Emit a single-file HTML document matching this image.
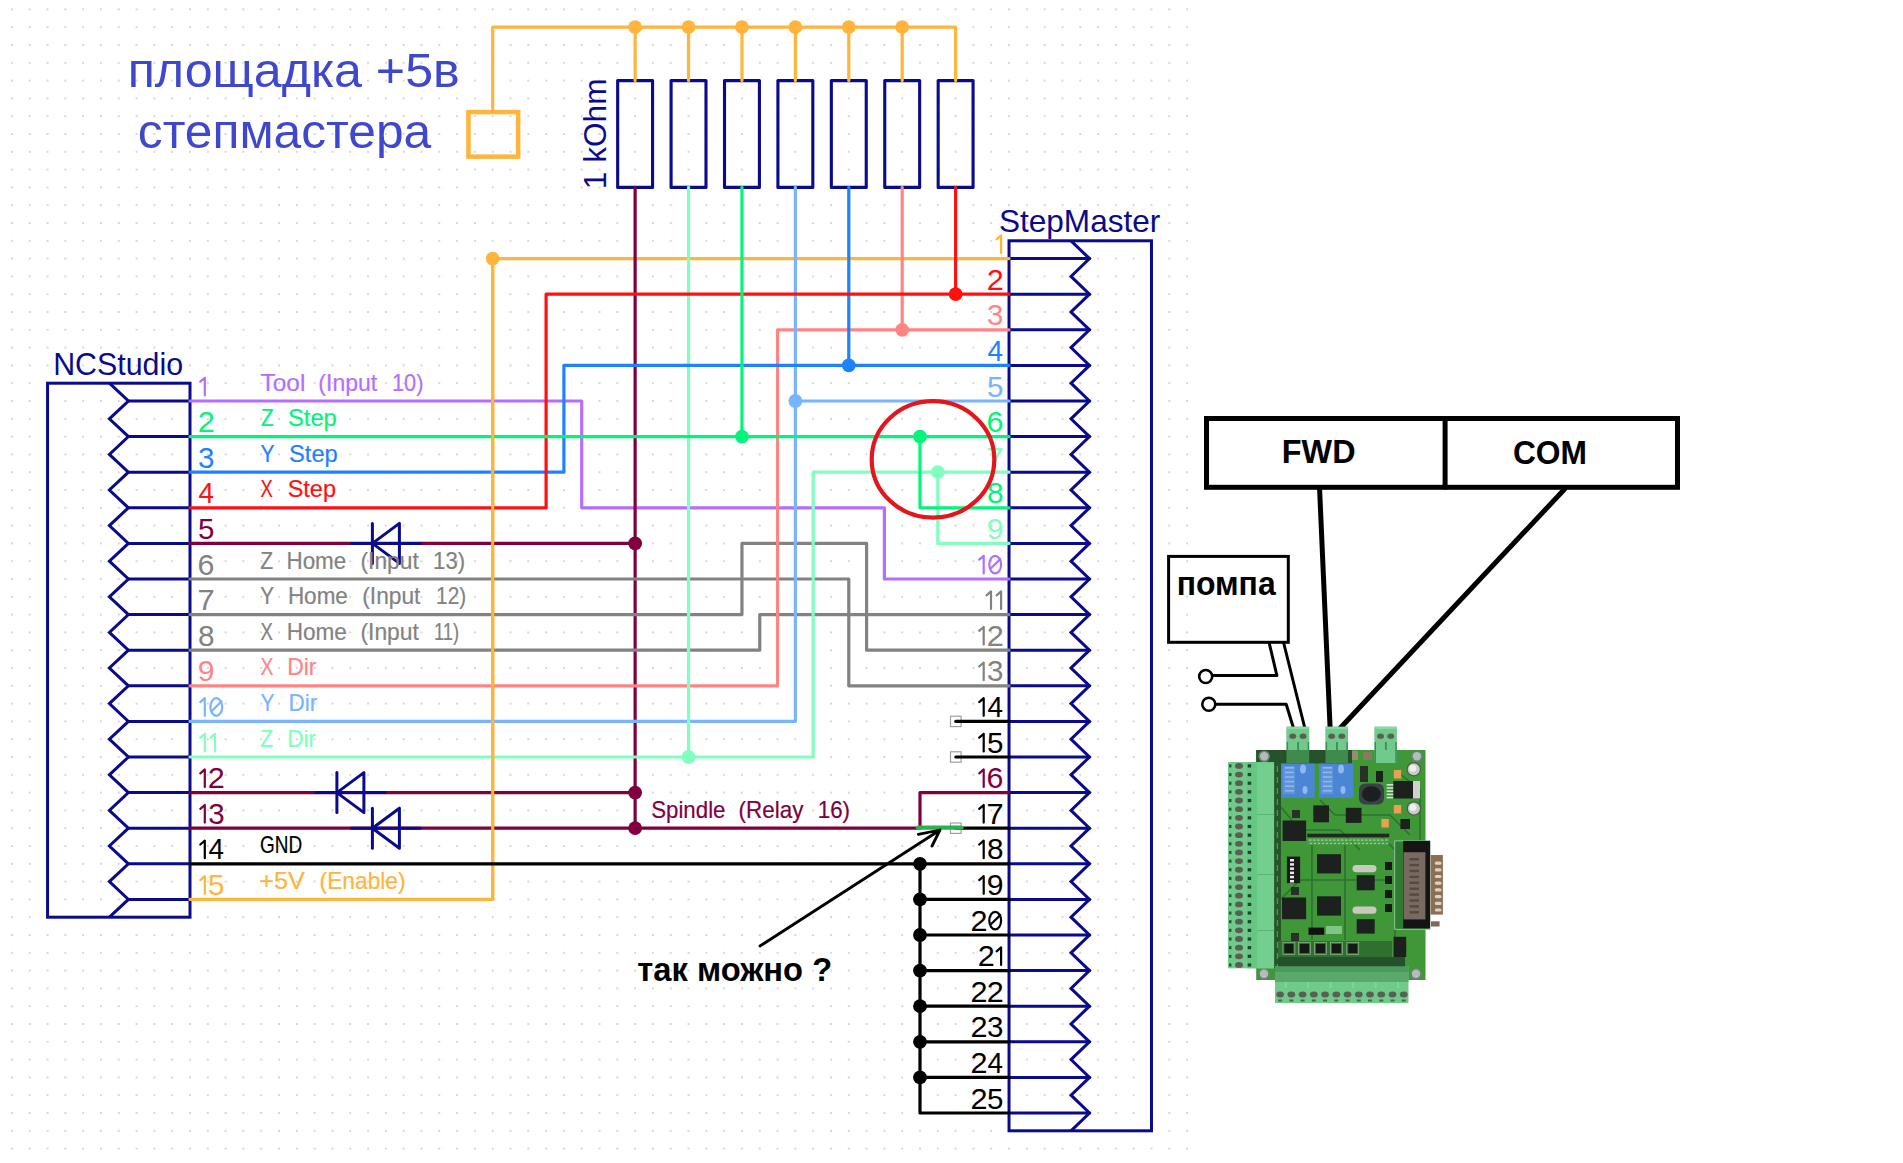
<!DOCTYPE html>
<html><head><meta charset="utf-8"><style>
html,body{margin:0;padding:0;background:#fff;width:1903px;height:1163px;overflow:hidden}
svg{display:block}
text{font-family:"Liberation Sans",sans-serif}
</style></head><body>
<svg width="1903" height="1163" viewBox="0 0 1903 1163">
<defs><pattern id="gd" x="10.95" y="8.4" width="17.805" height="17.8" patternUnits="userSpaceOnUse"><rect x="0.4" y="0.3" width="1.2" height="1.4" fill="#a0a0a0"/></pattern></defs>
<rect x="0" y="0" width="1195" height="1163" fill="url(#gd)"/>
<polyline points="109.4,383.2 128.4,401.0 109.4,418.8 128.4,436.6 109.4,454.4 128.4,472.2 109.4,490.0 128.4,507.8 109.4,525.6 128.4,543.4 109.4,561.2 128.4,579.0 109.4,596.8 128.4,614.6 109.4,632.4 128.4,650.2 109.4,668.0 128.4,685.8 109.4,703.6 128.4,721.4 109.4,739.2 128.4,757.0 109.4,774.8 128.4,792.6 109.4,810.4 128.4,828.2 109.4,846.0 128.4,863.8 109.4,881.6 128.4,899.4 109.4,917.2" stroke="#0a0a8c" stroke-width="3" fill="none" stroke-linejoin="miter"/>
<path d="M128.4,401.0 H190.0" stroke="#0a0a8c" stroke-width="3" fill="none" stroke-linejoin="round" stroke-linecap="round" stroke-linecap="butt"/>
<path d="M128.4,436.6 H190.0" stroke="#0a0a8c" stroke-width="3" fill="none" stroke-linejoin="round" stroke-linecap="round" stroke-linecap="butt"/>
<path d="M128.4,472.2 H190.0" stroke="#0a0a8c" stroke-width="3" fill="none" stroke-linejoin="round" stroke-linecap="round" stroke-linecap="butt"/>
<path d="M128.4,507.8 H190.0" stroke="#0a0a8c" stroke-width="3" fill="none" stroke-linejoin="round" stroke-linecap="round" stroke-linecap="butt"/>
<path d="M128.4,543.4 H190.0" stroke="#0a0a8c" stroke-width="3" fill="none" stroke-linejoin="round" stroke-linecap="round" stroke-linecap="butt"/>
<path d="M128.4,579.0 H190.0" stroke="#0a0a8c" stroke-width="3" fill="none" stroke-linejoin="round" stroke-linecap="round" stroke-linecap="butt"/>
<path d="M128.4,614.6 H190.0" stroke="#0a0a8c" stroke-width="3" fill="none" stroke-linejoin="round" stroke-linecap="round" stroke-linecap="butt"/>
<path d="M128.4,650.2 H190.0" stroke="#0a0a8c" stroke-width="3" fill="none" stroke-linejoin="round" stroke-linecap="round" stroke-linecap="butt"/>
<path d="M128.4,685.8 H190.0" stroke="#0a0a8c" stroke-width="3" fill="none" stroke-linejoin="round" stroke-linecap="round" stroke-linecap="butt"/>
<path d="M128.4,721.4 H190.0" stroke="#0a0a8c" stroke-width="3" fill="none" stroke-linejoin="round" stroke-linecap="round" stroke-linecap="butt"/>
<path d="M128.4,757.0 H190.0" stroke="#0a0a8c" stroke-width="3" fill="none" stroke-linejoin="round" stroke-linecap="round" stroke-linecap="butt"/>
<path d="M128.4,792.6 H190.0" stroke="#0a0a8c" stroke-width="3" fill="none" stroke-linejoin="round" stroke-linecap="round" stroke-linecap="butt"/>
<path d="M128.4,828.2 H190.0" stroke="#0a0a8c" stroke-width="3" fill="none" stroke-linejoin="round" stroke-linecap="round" stroke-linecap="butt"/>
<path d="M128.4,863.8 H190.0" stroke="#0a0a8c" stroke-width="3" fill="none" stroke-linejoin="round" stroke-linecap="round" stroke-linecap="butt"/>
<path d="M128.4,899.4 H190.0" stroke="#0a0a8c" stroke-width="3" fill="none" stroke-linejoin="round" stroke-linecap="round" stroke-linecap="butt"/>
<rect x="47.56" y="383.2" width="142.44" height="534.0" stroke="#0a0a8c" stroke-width="3" fill="none"/>
<polyline points="1071.0,240.8 1089.5,258.6 1071.0,276.4 1089.5,294.2 1071.0,312.0 1089.5,329.8 1071.0,347.6 1089.5,365.4 1071.0,383.2 1089.5,401.0 1071.0,418.8 1089.5,436.6 1071.0,454.4 1089.5,472.2 1071.0,490.0 1089.5,507.8 1071.0,525.6 1089.5,543.4 1071.0,561.2 1089.5,579.0 1071.0,596.8 1089.5,614.6 1071.0,632.4 1089.5,650.2 1071.0,668.0 1089.5,685.8 1071.0,703.6 1089.5,721.4 1071.0,739.2 1089.5,757.0 1071.0,774.8 1089.5,792.6 1071.0,810.4 1089.5,828.2 1071.0,846.0 1089.5,863.8 1071.0,881.6 1089.5,899.4 1071.0,917.2 1089.5,935.0 1071.0,952.8 1089.5,970.6 1071.0,988.4 1089.5,1006.2 1071.0,1024.0 1089.5,1041.8 1071.0,1059.6 1089.5,1077.4 1071.0,1095.2 1089.5,1113.0 1071.0,1130.8" stroke="#0a0a8c" stroke-width="3" fill="none" stroke-linejoin="miter"/>
<path d="M1009.03,258.6 H1089.5" stroke="#0a0a8c" stroke-width="3" fill="none" stroke-linejoin="round" stroke-linecap="round" stroke-linecap="butt"/>
<path d="M1009.03,294.2 H1089.5" stroke="#0a0a8c" stroke-width="3" fill="none" stroke-linejoin="round" stroke-linecap="round" stroke-linecap="butt"/>
<path d="M1009.03,329.8 H1089.5" stroke="#0a0a8c" stroke-width="3" fill="none" stroke-linejoin="round" stroke-linecap="round" stroke-linecap="butt"/>
<path d="M1009.03,365.4 H1089.5" stroke="#0a0a8c" stroke-width="3" fill="none" stroke-linejoin="round" stroke-linecap="round" stroke-linecap="butt"/>
<path d="M1009.03,401.0 H1089.5" stroke="#0a0a8c" stroke-width="3" fill="none" stroke-linejoin="round" stroke-linecap="round" stroke-linecap="butt"/>
<path d="M1009.03,436.6 H1089.5" stroke="#0a0a8c" stroke-width="3" fill="none" stroke-linejoin="round" stroke-linecap="round" stroke-linecap="butt"/>
<path d="M1009.03,472.2 H1089.5" stroke="#0a0a8c" stroke-width="3" fill="none" stroke-linejoin="round" stroke-linecap="round" stroke-linecap="butt"/>
<path d="M1009.03,507.8 H1089.5" stroke="#0a0a8c" stroke-width="3" fill="none" stroke-linejoin="round" stroke-linecap="round" stroke-linecap="butt"/>
<path d="M1009.03,543.4 H1089.5" stroke="#0a0a8c" stroke-width="3" fill="none" stroke-linejoin="round" stroke-linecap="round" stroke-linecap="butt"/>
<path d="M1009.03,579.0 H1089.5" stroke="#0a0a8c" stroke-width="3" fill="none" stroke-linejoin="round" stroke-linecap="round" stroke-linecap="butt"/>
<path d="M1009.03,614.6 H1089.5" stroke="#0a0a8c" stroke-width="3" fill="none" stroke-linejoin="round" stroke-linecap="round" stroke-linecap="butt"/>
<path d="M1009.03,650.2 H1089.5" stroke="#0a0a8c" stroke-width="3" fill="none" stroke-linejoin="round" stroke-linecap="round" stroke-linecap="butt"/>
<path d="M1009.03,685.8 H1089.5" stroke="#0a0a8c" stroke-width="3" fill="none" stroke-linejoin="round" stroke-linecap="round" stroke-linecap="butt"/>
<path d="M1009.03,721.4 H1089.5" stroke="#0a0a8c" stroke-width="3" fill="none" stroke-linejoin="round" stroke-linecap="round" stroke-linecap="butt"/>
<path d="M1009.03,757.0 H1089.5" stroke="#0a0a8c" stroke-width="3" fill="none" stroke-linejoin="round" stroke-linecap="round" stroke-linecap="butt"/>
<path d="M1009.03,792.6 H1089.5" stroke="#0a0a8c" stroke-width="3" fill="none" stroke-linejoin="round" stroke-linecap="round" stroke-linecap="butt"/>
<path d="M1009.03,828.2 H1089.5" stroke="#0a0a8c" stroke-width="3" fill="none" stroke-linejoin="round" stroke-linecap="round" stroke-linecap="butt"/>
<path d="M1009.03,863.8 H1089.5" stroke="#0a0a8c" stroke-width="3" fill="none" stroke-linejoin="round" stroke-linecap="round" stroke-linecap="butt"/>
<path d="M1009.03,899.4 H1089.5" stroke="#0a0a8c" stroke-width="3" fill="none" stroke-linejoin="round" stroke-linecap="round" stroke-linecap="butt"/>
<path d="M1009.03,935.0 H1089.5" stroke="#0a0a8c" stroke-width="3" fill="none" stroke-linejoin="round" stroke-linecap="round" stroke-linecap="butt"/>
<path d="M1009.03,970.6 H1089.5" stroke="#0a0a8c" stroke-width="3" fill="none" stroke-linejoin="round" stroke-linecap="round" stroke-linecap="butt"/>
<path d="M1009.03,1006.2 H1089.5" stroke="#0a0a8c" stroke-width="3" fill="none" stroke-linejoin="round" stroke-linecap="round" stroke-linecap="butt"/>
<path d="M1009.03,1041.8 H1089.5" stroke="#0a0a8c" stroke-width="3" fill="none" stroke-linejoin="round" stroke-linecap="round" stroke-linecap="butt"/>
<path d="M1009.03,1077.4 H1089.5" stroke="#0a0a8c" stroke-width="3" fill="none" stroke-linejoin="round" stroke-linecap="round" stroke-linecap="butt"/>
<path d="M1009.03,1113.0 H1089.5" stroke="#0a0a8c" stroke-width="3" fill="none" stroke-linejoin="round" stroke-linecap="round" stroke-linecap="butt"/>
<rect x="1009.03" y="240.8" width="142.44000000000005" height="890.0" stroke="#0a0a8c" stroke-width="3" fill="none"/>
<rect x="617.67" y="80.6" width="34.9" height="106.80000000000001" stroke="#0a0a8c" stroke-width="3.1" fill="none" stroke-linejoin="round"/>
<rect x="671.0899999999999" y="80.6" width="34.9" height="106.80000000000001" stroke="#0a0a8c" stroke-width="3.1" fill="none" stroke-linejoin="round"/>
<rect x="724.51" y="80.6" width="34.9" height="106.80000000000001" stroke="#0a0a8c" stroke-width="3.1" fill="none" stroke-linejoin="round"/>
<rect x="777.92" y="80.6" width="34.9" height="106.80000000000001" stroke="#0a0a8c" stroke-width="3.1" fill="none" stroke-linejoin="round"/>
<rect x="831.3399999999999" y="80.6" width="34.9" height="106.80000000000001" stroke="#0a0a8c" stroke-width="3.1" fill="none" stroke-linejoin="round"/>
<rect x="884.75" y="80.6" width="34.9" height="106.80000000000001" stroke="#0a0a8c" stroke-width="3.1" fill="none" stroke-linejoin="round"/>
<rect x="938.17" y="80.6" width="34.9" height="106.80000000000001" stroke="#0a0a8c" stroke-width="3.1" fill="none" stroke-linejoin="round"/>
<rect x="468.45" y="112.05" width="49.7" height="44.6" stroke="#ffb43c" stroke-width="4.5" fill="none"/>
<path d="M492.69,111 V27.2 H955.62 V80.6" stroke="#ffb43c" stroke-width="3.2" fill="none" stroke-linejoin="round" stroke-linecap="round"/>
<path d="M635.12,27.2 V80.6" stroke="#ffb43c" stroke-width="3.2" fill="none" stroke-linejoin="round" stroke-linecap="round"/>
<circle cx="635.12" cy="27.2" r="6.9" fill="#ffb43c"/>
<path d="M688.54,27.2 V80.6" stroke="#ffb43c" stroke-width="3.2" fill="none" stroke-linejoin="round" stroke-linecap="round"/>
<circle cx="688.54" cy="27.2" r="6.9" fill="#ffb43c"/>
<path d="M741.96,27.2 V80.6" stroke="#ffb43c" stroke-width="3.2" fill="none" stroke-linejoin="round" stroke-linecap="round"/>
<circle cx="741.96" cy="27.2" r="6.9" fill="#ffb43c"/>
<path d="M795.37,27.2 V80.6" stroke="#ffb43c" stroke-width="3.2" fill="none" stroke-linejoin="round" stroke-linecap="round"/>
<circle cx="795.37" cy="27.2" r="6.9" fill="#ffb43c"/>
<path d="M848.79,27.2 V80.6" stroke="#ffb43c" stroke-width="3.2" fill="none" stroke-linejoin="round" stroke-linecap="round"/>
<circle cx="848.79" cy="27.2" r="6.9" fill="#ffb43c"/>
<path d="M902.2,27.2 V80.6" stroke="#ffb43c" stroke-width="3.2" fill="none" stroke-linejoin="round" stroke-linecap="round"/>
<circle cx="902.2" cy="27.2" r="6.9" fill="#ffb43c"/>
<path d="M190.0,899.4 H492.69 V258.6 H1009.03" stroke="#ffb43c" stroke-width="3.2" fill="none" stroke-linejoin="round" stroke-linecap="round"/>
<circle cx="492.69" cy="258.6" r="6.9" fill="#ffb43c"/>
<path d="M190.0,401.0 H581.71 V507.8 H884.39 V579.0 H1009.03" stroke="#b46eff" stroke-width="3.2" fill="none" stroke-linejoin="round" stroke-linecap="round"/>
<path d="M635.12,187.4 V828.2" stroke="#80003f" stroke-width="3.2" fill="none" stroke-linejoin="round" stroke-linecap="round"/>
<path d="M190.0,543.4 H635.12" stroke="#80003f" stroke-width="3.2" fill="none" stroke-linejoin="round" stroke-linecap="round"/>
<path d="M190.0,792.6 H635.12" stroke="#80003f" stroke-width="3.2" fill="none" stroke-linejoin="round" stroke-linecap="round"/>
<path d="M190.0,828.2 H920.0 V792.6 H1009.03" stroke="#80003f" stroke-width="3.2" fill="none" stroke-linejoin="round" stroke-linecap="round"/>
<circle cx="635.12" cy="543.4" r="6.9" fill="#80003f"/>
<circle cx="635.12" cy="792.6" r="6.9" fill="#80003f"/>
<circle cx="635.12" cy="828.2" r="6.9" fill="#80003f"/>
<path d="M190.0,579.0 H848.79 V685.8 H1009.03" stroke="#828282" stroke-width="3.2" fill="none" stroke-linejoin="round" stroke-linecap="round"/>
<path d="M190.0,614.6 H741.96 V543.4 H866.59 V650.2 H1009.03" stroke="#828282" stroke-width="3.2" fill="none" stroke-linejoin="round" stroke-linecap="round"/>
<path d="M190.0,650.2 H759.76 V614.6 H1009.03" stroke="#828282" stroke-width="3.2" fill="none" stroke-linejoin="round" stroke-linecap="round"/>
<path d="M190.0,685.8 H777.57 V329.8 H1009.03" stroke="#ff8484" stroke-width="3.2" fill="none" stroke-linejoin="round" stroke-linecap="round"/>
<path d="M902.2,187.4 V329.8" stroke="#ff8484" stroke-width="3.2" fill="none" stroke-linejoin="round" stroke-linecap="round"/>
<circle cx="902.2" cy="329.8" r="6.9" fill="#ff8484"/>
<path d="M190.0,721.4 H795.37 V401.0 H1009.03" stroke="#78b4ff" stroke-width="3.2" fill="none" stroke-linejoin="round" stroke-linecap="round"/>
<path d="M795.37,187.4 V401.0" stroke="#78b4ff" stroke-width="3.2" fill="none" stroke-linejoin="round" stroke-linecap="round"/>
<circle cx="795.37" cy="401.0" r="6.9" fill="#78b4ff"/>
<path d="M190.0,757.0 H813.18 V472.2 H1009.03" stroke="#80ffbe" stroke-width="3.2" fill="none" stroke-linejoin="round" stroke-linecap="round"/>
<path d="M688.54,187.4 V757.0" stroke="#80ffbe" stroke-width="3.2" fill="none" stroke-linejoin="round" stroke-linecap="round"/>
<circle cx="688.54" cy="757.0" r="6.9" fill="#80ffbe"/>
<path d="M937.81,472.2 V543.4 H1009.03" stroke="#80ffbe" stroke-width="3.2" fill="none" stroke-linejoin="round" stroke-linecap="round"/>
<circle cx="937.81" cy="472.2" r="6.9" fill="#80ffbe"/>
<path d="M190.0,472.2 H563.91 V365.4 H1009.03" stroke="#1e82ff" stroke-width="3.2" fill="none" stroke-linejoin="round" stroke-linecap="round"/>
<path d="M848.79,187.4 V365.4" stroke="#1e82ff" stroke-width="3.2" fill="none" stroke-linejoin="round" stroke-linecap="round"/>
<circle cx="848.79" cy="365.4" r="6.9" fill="#1e82ff"/>
<path d="M190.0,507.8 H546.1 V294.2 H1009.03" stroke="#ff1010" stroke-width="3.2" fill="none" stroke-linejoin="round" stroke-linecap="round"/>
<path d="M955.62,187.4 V294.2" stroke="#ff1010" stroke-width="3.2" fill="none" stroke-linejoin="round" stroke-linecap="round"/>
<circle cx="955.62" cy="294.2" r="6.9" fill="#ff1010"/>
<path d="M190.0,436.6 H1009.03" stroke="#00f57a" stroke-width="3.2" fill="none" stroke-linejoin="round" stroke-linecap="round"/>
<path d="M741.96,187.4 V436.6" stroke="#00f57a" stroke-width="3.2" fill="none" stroke-linejoin="round" stroke-linecap="round"/>
<circle cx="741.96" cy="436.6" r="6.9" fill="#00f57a"/>
<path d="M920.0,436.6 V507.8 H1009.03" stroke="#00f57a" stroke-width="3.2" fill="none" stroke-linejoin="round" stroke-linecap="round"/>
<circle cx="920.0" cy="436.6" r="6.9" fill="#00f57a"/>
<path d="M492.69,258.6 V899.4" stroke="#ffb43c" stroke-width="3.2" fill="none" stroke-linejoin="round" stroke-linecap="round"/>
<path d="M190.0,863.8 H1009.03" stroke="#000000" stroke-width="3.2" fill="none" stroke-linejoin="round" stroke-linecap="round"/>
<path d="M920.0,863.8 V1113.0 H1009.03" stroke="#000000" stroke-width="3.2" fill="none" stroke-linejoin="round" stroke-linecap="round"/>
<circle cx="920.0" cy="863.8" r="6.9" fill="#000000"/>
<path d="M920.0,899.4 H1009.03" stroke="#000000" stroke-width="3.2" fill="none" stroke-linejoin="round" stroke-linecap="round"/>
<circle cx="920.0" cy="899.4" r="6.9" fill="#000000"/>
<path d="M920.0,935.0 H1009.03" stroke="#000000" stroke-width="3.2" fill="none" stroke-linejoin="round" stroke-linecap="round"/>
<circle cx="920.0" cy="935.0" r="6.9" fill="#000000"/>
<path d="M920.0,970.6 H1009.03" stroke="#000000" stroke-width="3.2" fill="none" stroke-linejoin="round" stroke-linecap="round"/>
<circle cx="920.0" cy="970.6" r="6.9" fill="#000000"/>
<path d="M920.0,1006.2 H1009.03" stroke="#000000" stroke-width="3.2" fill="none" stroke-linejoin="round" stroke-linecap="round"/>
<circle cx="920.0" cy="1006.2" r="6.9" fill="#000000"/>
<path d="M920.0,1041.8 H1009.03" stroke="#000000" stroke-width="3.2" fill="none" stroke-linejoin="round" stroke-linecap="round"/>
<circle cx="920.0" cy="1041.8" r="6.9" fill="#000000"/>
<path d="M920.0,1077.4 H1009.03" stroke="#000000" stroke-width="3.2" fill="none" stroke-linejoin="round" stroke-linecap="round"/>
<circle cx="920.0" cy="1077.4" r="6.9" fill="#000000"/>
<rect x="950.5" y="716.2" width="10.6" height="10.4" fill="none" stroke="#a0a0a0" stroke-width="1.2"/>
<path d="M955.8,721.4 H1009.03" stroke="#000000" stroke-width="3.2" fill="none" stroke-linejoin="round" stroke-linecap="round"/>
<rect x="950.5" y="751.8" width="10.6" height="10.4" fill="none" stroke="#a0a0a0" stroke-width="1.2"/>
<path d="M955.8,757.0 H1009.03" stroke="#000000" stroke-width="3.2" fill="none" stroke-linejoin="round" stroke-linecap="round"/>
<rect x="950.5" y="823.0" width="10.6" height="10.4" fill="none" stroke="#a0a0a0" stroke-width="1.2"/>
<path d="M955.8,828.2 H1009.03" stroke="#000000" stroke-width="3.2" fill="none" stroke-linejoin="round" stroke-linecap="round"/>
<path d="M918.0,827.6 H961.5" stroke="#2bb34b" stroke-width="4.4" fill="none" stroke-linejoin="round" stroke-linecap="round" stroke-linecap="butt"/>
<path d="M351.4,543.4 H420.4" stroke="#0a0a8c" stroke-width="3" fill="none" stroke-linejoin="round" stroke-linecap="round"/>
<path d="M372.4,523.4 V563.4" stroke="#0a0a8c" stroke-width="3" fill="none" stroke-linejoin="round" stroke-linecap="round"/>
<path d="M399.4,523.4 V563.4 L372.4,543.4 Z" stroke="#0a0a8c" stroke-width="3" fill="none" stroke-linejoin="round" stroke-linecap="round"/>
<path d="M315.9,792.6 H384.9" stroke="#0a0a8c" stroke-width="3" fill="none" stroke-linejoin="round" stroke-linecap="round"/>
<path d="M336.9,772.6 V812.6" stroke="#0a0a8c" stroke-width="3" fill="none" stroke-linejoin="round" stroke-linecap="round"/>
<path d="M363.9,772.6 V812.6 L336.9,792.6 Z" stroke="#0a0a8c" stroke-width="3" fill="none" stroke-linejoin="round" stroke-linecap="round"/>
<path d="M351.4,828.2 H420.4" stroke="#0a0a8c" stroke-width="3" fill="none" stroke-linejoin="round" stroke-linecap="round"/>
<path d="M372.4,808.2 V848.2" stroke="#0a0a8c" stroke-width="3" fill="none" stroke-linejoin="round" stroke-linecap="round"/>
<path d="M399.4,808.2 V848.2 L372.4,828.2 Z" stroke="#0a0a8c" stroke-width="3" fill="none" stroke-linejoin="round" stroke-linecap="round"/>
<path d="M200.3,381.7 L204.8,377.8 V395.4" stroke="#b46eff" stroke-width="2.2" fill="none" stroke-linecap="round" stroke-linejoin="round"/>
<text x="197.7" y="432.1" fill="#00f57a" font-size="28.7" font-family="Liberation Sans" font-weight="normal" textLength="17.06" lengthAdjust="spacingAndGlyphs">2</text>
<text x="198.07" y="467.7" fill="#1e82ff" font-size="28.7" font-family="Liberation Sans" font-weight="normal" textLength="16.43" lengthAdjust="spacingAndGlyphs">3</text>
<text x="198.52" y="503.3" fill="#ff1010" font-size="28.7" font-family="Liberation Sans" font-weight="normal" textLength="15.52" lengthAdjust="spacingAndGlyphs">4</text>
<text x="197.96" y="538.9" fill="#80003f" font-size="28.7" font-family="Liberation Sans" font-weight="normal" textLength="16.43" lengthAdjust="spacingAndGlyphs">5</text>
<text x="197.61" y="574.5" fill="#828282" font-size="28.7" font-family="Liberation Sans" font-weight="normal" textLength="16.93" lengthAdjust="spacingAndGlyphs">6</text>
<text x="197.58" y="610.1" fill="#828282" font-size="28.7" font-family="Liberation Sans" font-weight="normal" textLength="17.19" lengthAdjust="spacingAndGlyphs">7</text>
<text x="197.96" y="645.7" fill="#828282" font-size="28.7" font-family="Liberation Sans" font-weight="normal" textLength="16.55" lengthAdjust="spacingAndGlyphs">8</text>
<text x="197.83" y="681.3" fill="#ff8484" font-size="28.7" font-family="Liberation Sans" font-weight="normal" textLength="16.8" lengthAdjust="spacingAndGlyphs">9</text>
<path d="M200.3,702.1 L204.8,698.2 V715.8" stroke="#78b4ff" stroke-width="2.2" fill="none" stroke-linecap="round" stroke-linejoin="round"/>
<ellipse cx="216.3" cy="707.0" rx="5.9" ry="8.8" stroke="#78b4ff" stroke-width="2.2" fill="none"/>
<path d="M212.0,710.7 L221.4,701.5" stroke="#78b4ff" stroke-width="2.2" fill="none" stroke-linecap="round"/>
<path d="M200.3,737.7 L204.8,733.8 V751.4" stroke="#80ffbe" stroke-width="2.2" fill="none" stroke-linecap="round" stroke-linejoin="round"/>
<path d="M210.4,737.7 L214.9,733.8 V751.4" stroke="#80ffbe" stroke-width="2.2" fill="none" stroke-linecap="round" stroke-linejoin="round"/>
<path d="M200.3,773.3 L204.8,769.4 V787.0" stroke="#80003f" stroke-width="2.2" fill="none" stroke-linecap="round" stroke-linejoin="round"/>
<text x="207.8" y="788.1" fill="#80003f" font-size="28.7" font-family="Liberation Sans" font-weight="normal" textLength="17.06" lengthAdjust="spacingAndGlyphs">2</text>
<path d="M200.3,808.9 L204.8,805.0 V822.6" stroke="#80003f" stroke-width="2.2" fill="none" stroke-linecap="round" stroke-linejoin="round"/>
<text x="208.17" y="823.7" fill="#80003f" font-size="28.7" font-family="Liberation Sans" font-weight="normal" textLength="16.43" lengthAdjust="spacingAndGlyphs">3</text>
<path d="M200.3,844.5 L204.8,840.6 V858.2" stroke="#000000" stroke-width="2.2" fill="none" stroke-linecap="round" stroke-linejoin="round"/>
<text x="208.62" y="859.3" fill="#000000" font-size="28.7" font-family="Liberation Sans" font-weight="normal" textLength="15.52" lengthAdjust="spacingAndGlyphs">4</text>
<path d="M200.3,880.1 L204.8,876.2 V893.8" stroke="#ffb43c" stroke-width="2.2" fill="none" stroke-linecap="round" stroke-linejoin="round"/>
<text x="208.06" y="894.9" fill="#ffb43c" font-size="28.7" font-family="Liberation Sans" font-weight="normal" textLength="16.43" lengthAdjust="spacingAndGlyphs">5</text>
<text x="260.55" y="390.6" fill="#b46eff" font-size="23.2" font-family="Liberation Sans" font-weight="normal" textLength="44.8" lengthAdjust="spacingAndGlyphs" stroke="#b46eff" stroke-width="0.2">Tool</text>
<text x="318.36" y="390.6" fill="#b46eff" font-size="23.2" font-family="Liberation Sans" font-weight="normal" textLength="58.77" lengthAdjust="spacingAndGlyphs" stroke="#b46eff" stroke-width="0.2">(Input</text>
<text x="391.94" y="390.6" fill="#b46eff" font-size="23.2" font-family="Liberation Sans" font-weight="normal" textLength="31.46" lengthAdjust="spacingAndGlyphs" stroke="#b46eff" stroke-width="0.2">10)</text>
<text x="261.05" y="426.2" fill="#00f57a" font-size="23.2" font-family="Liberation Sans" font-weight="normal" textLength="12.73" lengthAdjust="spacingAndGlyphs" stroke="#00f57a" stroke-width="0.2">Z</text>
<text x="287.93" y="426.2" fill="#00f57a" font-size="23.2" font-family="Liberation Sans" font-weight="normal" textLength="48.91" lengthAdjust="spacingAndGlyphs" stroke="#00f57a" stroke-width="0.2">Step</text>
<text x="260.44" y="461.8" fill="#1e82ff" font-size="23.2" font-family="Liberation Sans" font-weight="normal" textLength="14.01" lengthAdjust="spacingAndGlyphs" stroke="#1e82ff" stroke-width="0.2">Y</text>
<text x="289.04" y="461.8" fill="#1e82ff" font-size="23.2" font-family="Liberation Sans" font-weight="normal" textLength="48.7" lengthAdjust="spacingAndGlyphs" stroke="#1e82ff" stroke-width="0.2">Step</text>
<text x="260.39" y="497.4" fill="#ff1010" font-size="23.2" font-family="Liberation Sans" font-weight="normal" textLength="12.2" lengthAdjust="spacingAndGlyphs" stroke="#ff1010" stroke-width="0.2">X</text>
<text x="287.65" y="497.4" fill="#ff1010" font-size="23.2" font-family="Liberation Sans" font-weight="normal" textLength="48.38" lengthAdjust="spacingAndGlyphs" stroke="#ff1010" stroke-width="0.2">Step</text>
<text x="260.14" y="568.6" fill="#828282" font-size="23.2" font-family="Liberation Sans" font-weight="normal" textLength="12.84" lengthAdjust="spacingAndGlyphs" stroke="#828282" stroke-width="0.2">Z</text>
<text x="286.49" y="568.6" fill="#828282" font-size="23.2" font-family="Liberation Sans" font-weight="normal" textLength="59.7" lengthAdjust="spacingAndGlyphs" stroke="#828282" stroke-width="0.2">Home</text>
<text x="360.47" y="568.6" fill="#828282" font-size="23.2" font-family="Liberation Sans" font-weight="normal" textLength="58.26" lengthAdjust="spacingAndGlyphs" stroke="#828282" stroke-width="0.2">(Input</text>
<text x="433.11" y="568.6" fill="#828282" font-size="23.2" font-family="Liberation Sans" font-weight="normal" textLength="32.01" lengthAdjust="spacingAndGlyphs" stroke="#828282" stroke-width="0.2">13)</text>
<text x="260.24" y="604.2" fill="#828282" font-size="23.2" font-family="Liberation Sans" font-weight="normal" textLength="13.79" lengthAdjust="spacingAndGlyphs" stroke="#828282" stroke-width="0.2">Y</text>
<text x="287.88" y="604.2" fill="#828282" font-size="23.2" font-family="Liberation Sans" font-weight="normal" textLength="60.01" lengthAdjust="spacingAndGlyphs" stroke="#828282" stroke-width="0.2">Home</text>
<text x="362.27" y="604.2" fill="#828282" font-size="23.2" font-family="Liberation Sans" font-weight="normal" textLength="58.16" lengthAdjust="spacingAndGlyphs" stroke="#828282" stroke-width="0.2">(Input</text>
<text x="436.12" y="604.2" fill="#828282" font-size="23.2" font-family="Liberation Sans" font-weight="normal" textLength="30.02" lengthAdjust="spacingAndGlyphs" stroke="#828282" stroke-width="0.2">12)</text>
<text x="260.39" y="639.8" fill="#828282" font-size="23.2" font-family="Liberation Sans" font-weight="normal" textLength="12.31" lengthAdjust="spacingAndGlyphs" stroke="#828282" stroke-width="0.2">X</text>
<text x="286.68" y="639.8" fill="#828282" font-size="23.2" font-family="Liberation Sans" font-weight="normal" textLength="60.12" lengthAdjust="spacingAndGlyphs" stroke="#828282" stroke-width="0.2">Home</text>
<text x="360.47" y="639.8" fill="#828282" font-size="23.2" font-family="Liberation Sans" font-weight="normal" textLength="58.26" lengthAdjust="spacingAndGlyphs" stroke="#828282" stroke-width="0.2">(Input</text>
<text x="433.9" y="639.8" fill="#828282" font-size="23.2" font-family="Liberation Sans" font-weight="normal" textLength="25.13" lengthAdjust="spacingAndGlyphs" stroke="#828282" stroke-width="0.2">11)</text>
<text x="260.56" y="675.4" fill="#ff8484" font-size="23.2" font-family="Liberation Sans" font-weight="normal" textLength="12.95" lengthAdjust="spacingAndGlyphs" stroke="#ff8484" stroke-width="0.2">X</text>
<text x="287.15" y="675.4" fill="#ff8484" font-size="23.2" font-family="Liberation Sans" font-weight="normal" textLength="29.35" lengthAdjust="spacingAndGlyphs" stroke="#ff8484" stroke-width="0.2">Dir</text>
<text x="260.44" y="711.0" fill="#78b4ff" font-size="23.2" font-family="Liberation Sans" font-weight="normal" textLength="14.01" lengthAdjust="spacingAndGlyphs" stroke="#78b4ff" stroke-width="0.2">Y</text>
<text x="288.48" y="711.0" fill="#78b4ff" font-size="23.2" font-family="Liberation Sans" font-weight="normal" textLength="28.81" lengthAdjust="spacingAndGlyphs" stroke="#78b4ff" stroke-width="0.2">Dir</text>
<text x="260.33" y="746.6" fill="#80ffbe" font-size="23.2" font-family="Liberation Sans" font-weight="normal" textLength="12.95" lengthAdjust="spacingAndGlyphs" stroke="#80ffbe" stroke-width="0.2">Z</text>
<text x="287.18" y="746.6" fill="#80ffbe" font-size="23.2" font-family="Liberation Sans" font-weight="normal" textLength="28.81" lengthAdjust="spacingAndGlyphs" stroke="#80ffbe" stroke-width="0.2">Dir</text>
<text x="259.96" y="853.4" fill="#000000" font-size="23.2" font-family="Liberation Sans" font-weight="normal" textLength="42.13" lengthAdjust="spacingAndGlyphs" stroke="#000000" stroke-width="0.2">GND</text>
<text x="259.26" y="889.0" fill="#ffb43c" font-size="23.2" font-family="Liberation Sans" font-weight="normal" textLength="45.45" lengthAdjust="spacingAndGlyphs" stroke="#ffb43c" stroke-width="0.2">+5V</text>
<text x="319.57" y="889.0" fill="#ffb43c" font-size="23.2" font-family="Liberation Sans" font-weight="normal" textLength="86.05" lengthAdjust="spacingAndGlyphs" stroke="#ffb43c" stroke-width="0.2">(Enable)</text>
<path d="M996.6,239.3 L1001.1,235.4 V253.0" stroke="#ffb43c" stroke-width="2.2" fill="none" stroke-linecap="round" stroke-linejoin="round"/>
<text x="986.7" y="289.7" fill="#ff1010" font-size="28.7" font-family="Liberation Sans" font-weight="normal" textLength="17.06" lengthAdjust="spacingAndGlyphs">2</text>
<text x="987.07" y="325.3" fill="#ff8484" font-size="28.7" font-family="Liberation Sans" font-weight="normal" textLength="16.43" lengthAdjust="spacingAndGlyphs">3</text>
<text x="987.52" y="360.9" fill="#1e82ff" font-size="28.7" font-family="Liberation Sans" font-weight="normal" textLength="15.52" lengthAdjust="spacingAndGlyphs">4</text>
<text x="986.96" y="396.5" fill="#78b4ff" font-size="28.7" font-family="Liberation Sans" font-weight="normal" textLength="16.43" lengthAdjust="spacingAndGlyphs">5</text>
<text x="986.61" y="432.1" fill="#00f57a" font-size="28.7" font-family="Liberation Sans" font-weight="normal" textLength="16.93" lengthAdjust="spacingAndGlyphs">6</text>
<text x="986.58" y="467.7" fill="#80ffbe" font-size="28.7" font-family="Liberation Sans" font-weight="normal" textLength="17.19" lengthAdjust="spacingAndGlyphs">7</text>
<text x="986.96" y="503.3" fill="#00f57a" font-size="28.7" font-family="Liberation Sans" font-weight="normal" textLength="16.55" lengthAdjust="spacingAndGlyphs">8</text>
<text x="986.83" y="538.9" fill="#80ffbe" font-size="28.7" font-family="Liberation Sans" font-weight="normal" textLength="16.8" lengthAdjust="spacingAndGlyphs">9</text>
<path d="M979.2,559.7 L983.7,555.8 V573.4" stroke="#b46eff" stroke-width="2.2" fill="none" stroke-linecap="round" stroke-linejoin="round"/>
<ellipse cx="995.2" cy="564.6" rx="5.9" ry="8.8" stroke="#b46eff" stroke-width="2.2" fill="none"/>
<path d="M990.9,568.3 L1000.3,559.1" stroke="#b46eff" stroke-width="2.2" fill="none" stroke-linecap="round"/>
<path d="M986.5,595.3 L991.0,591.4 V609.0" stroke="#828282" stroke-width="2.2" fill="none" stroke-linecap="round" stroke-linejoin="round"/>
<path d="M996.6,595.3 L1001.1,591.4 V609.0" stroke="#828282" stroke-width="2.2" fill="none" stroke-linecap="round" stroke-linejoin="round"/>
<path d="M979.2,630.9 L983.7,627.0 V644.6" stroke="#828282" stroke-width="2.2" fill="none" stroke-linecap="round" stroke-linejoin="round"/>
<text x="986.7" y="645.7" fill="#828282" font-size="28.7" font-family="Liberation Sans" font-weight="normal" textLength="17.06" lengthAdjust="spacingAndGlyphs">2</text>
<path d="M979.2,666.5 L983.7,662.6 V680.2" stroke="#828282" stroke-width="2.2" fill="none" stroke-linecap="round" stroke-linejoin="round"/>
<text x="987.07" y="681.3" fill="#828282" font-size="28.7" font-family="Liberation Sans" font-weight="normal" textLength="16.43" lengthAdjust="spacingAndGlyphs">3</text>
<path d="M979.2,702.1 L983.7,698.2 V715.8" stroke="#000000" stroke-width="2.2" fill="none" stroke-linecap="round" stroke-linejoin="round"/>
<text x="987.52" y="716.9" fill="#000000" font-size="28.7" font-family="Liberation Sans" font-weight="normal" textLength="15.52" lengthAdjust="spacingAndGlyphs">4</text>
<path d="M979.2,737.7 L983.7,733.8 V751.4" stroke="#000000" stroke-width="2.2" fill="none" stroke-linecap="round" stroke-linejoin="round"/>
<text x="986.96" y="752.5" fill="#000000" font-size="28.7" font-family="Liberation Sans" font-weight="normal" textLength="16.43" lengthAdjust="spacingAndGlyphs">5</text>
<path d="M979.2,773.3 L983.7,769.4 V787.0" stroke="#80003f" stroke-width="2.2" fill="none" stroke-linecap="round" stroke-linejoin="round"/>
<text x="986.61" y="788.1" fill="#80003f" font-size="28.7" font-family="Liberation Sans" font-weight="normal" textLength="16.93" lengthAdjust="spacingAndGlyphs">6</text>
<path d="M979.2,808.9 L983.7,805.0 V822.6" stroke="#000000" stroke-width="2.2" fill="none" stroke-linecap="round" stroke-linejoin="round"/>
<text x="986.58" y="823.7" fill="#000000" font-size="28.7" font-family="Liberation Sans" font-weight="normal" textLength="17.19" lengthAdjust="spacingAndGlyphs">7</text>
<path d="M979.2,844.5 L983.7,840.6 V858.2" stroke="#000000" stroke-width="2.2" fill="none" stroke-linecap="round" stroke-linejoin="round"/>
<text x="986.96" y="859.3" fill="#000000" font-size="28.7" font-family="Liberation Sans" font-weight="normal" textLength="16.55" lengthAdjust="spacingAndGlyphs">8</text>
<path d="M979.2,880.1 L983.7,876.2 V893.8" stroke="#000000" stroke-width="2.2" fill="none" stroke-linecap="round" stroke-linejoin="round"/>
<text x="986.83" y="894.9" fill="#000000" font-size="28.7" font-family="Liberation Sans" font-weight="normal" textLength="16.8" lengthAdjust="spacingAndGlyphs">9</text>
<text x="970.5" y="930.5" fill="#000000" font-size="28.7" font-family="Liberation Sans" font-weight="normal" textLength="17.06" lengthAdjust="spacingAndGlyphs">2</text>
<ellipse cx="995.2" cy="920.6" rx="5.9" ry="8.8" stroke="#000000" stroke-width="2.2" fill="none"/>
<path d="M990.9,924.3 L1000.3,915.1" stroke="#000000" stroke-width="2.2" fill="none" stroke-linecap="round"/>
<text x="977.8" y="966.1" fill="#000000" font-size="28.7" font-family="Liberation Sans" font-weight="normal" textLength="17.06" lengthAdjust="spacingAndGlyphs">2</text>
<path d="M996.6,951.3 L1001.1,947.4 V965.0" stroke="#000000" stroke-width="2.2" fill="none" stroke-linecap="round" stroke-linejoin="round"/>
<text x="970.5" y="1001.7" fill="#000000" font-size="28.7" font-family="Liberation Sans" font-weight="normal" textLength="17.06" lengthAdjust="spacingAndGlyphs">2</text>
<text x="986.7" y="1001.7" fill="#000000" font-size="28.7" font-family="Liberation Sans" font-weight="normal" textLength="17.06" lengthAdjust="spacingAndGlyphs">2</text>
<text x="970.5" y="1037.3" fill="#000000" font-size="28.7" font-family="Liberation Sans" font-weight="normal" textLength="17.06" lengthAdjust="spacingAndGlyphs">2</text>
<text x="987.07" y="1037.3" fill="#000000" font-size="28.7" font-family="Liberation Sans" font-weight="normal" textLength="16.43" lengthAdjust="spacingAndGlyphs">3</text>
<text x="970.5" y="1072.9" fill="#000000" font-size="28.7" font-family="Liberation Sans" font-weight="normal" textLength="17.06" lengthAdjust="spacingAndGlyphs">2</text>
<text x="987.52" y="1072.9" fill="#000000" font-size="28.7" font-family="Liberation Sans" font-weight="normal" textLength="15.52" lengthAdjust="spacingAndGlyphs">4</text>
<text x="970.5" y="1108.5" fill="#000000" font-size="28.7" font-family="Liberation Sans" font-weight="normal" textLength="17.06" lengthAdjust="spacingAndGlyphs">2</text>
<text x="986.96" y="1108.5" fill="#000000" font-size="28.7" font-family="Liberation Sans" font-weight="normal" textLength="16.43" lengthAdjust="spacingAndGlyphs">5</text>
<text x="53.13" y="374.5" fill="#0a0a8c" font-size="32" font-family="Liberation Sans" font-weight="normal" textLength="129.95" lengthAdjust="spacingAndGlyphs">NCStudio</text>
<text x="998.92" y="232.2" fill="#0a0a8c" font-size="32" font-family="Liberation Sans" font-weight="normal" textLength="161.4" lengthAdjust="spacingAndGlyphs">StepMaster</text>
<text x="651.2" y="817.8" fill="#80003f" font-size="23.2" font-family="Liberation Sans" font-weight="normal" textLength="74.29" lengthAdjust="spacingAndGlyphs" stroke="#80003f" stroke-width="0.2">Spindle</text>
<text x="738.49" y="817.8" fill="#80003f" font-size="23.2" font-family="Liberation Sans" font-weight="normal" textLength="64.95" lengthAdjust="spacingAndGlyphs" stroke="#80003f" stroke-width="0.2">(Relay</text>
<text x="817.69" y="817.8" fill="#80003f" font-size="23.2" font-family="Liberation Sans" font-weight="normal" textLength="32.34" lengthAdjust="spacingAndGlyphs" stroke="#80003f" stroke-width="0.2">16)</text>
<text x="-2.37" y="0" fill="#0a0a8c" font-size="32" font-family="Liberation Sans" transform="translate(605.5,186.8) rotate(-90)" textLength="110.7" lengthAdjust="spacingAndGlyphs">1 kOhm</text>
<text x="127.65" y="86.6" fill="#3f48cc" font-size="48" font-family="Liberation Sans" font-weight="normal" textLength="332.09" lengthAdjust="spacingAndGlyphs">площадка +5в</text>
<text x="137.83" y="147.5" fill="#3f48cc" font-size="48" font-family="Liberation Sans" font-weight="normal" textLength="293.33" lengthAdjust="spacingAndGlyphs">степмастера</text>
<ellipse cx="933" cy="459.4" rx="61.3" ry="58.2" stroke="#e3161e" stroke-width="4.2" fill="none"/>
<path d="M760,946 L940,830 M918.3,834.3 L940,830 L932,846" stroke="#000" stroke-width="2.8" fill="none" stroke-linejoin="round" stroke-linecap="round"/>
<text x="637.34" y="981" fill="#000" font-size="34" font-family="Liberation Sans" font-weight="bold" textLength="194.76" lengthAdjust="spacingAndGlyphs">так можно ?</text>
<rect x="1206.5" y="418.5" width="471" height="68.8" stroke="#000" stroke-width="5" fill="none"/>
<path d="M1445.1,418.6 V487.3" stroke="#000" stroke-width="5" fill="none" stroke-linejoin="round" stroke-linecap="round"/>
<text x="1281.84" y="462.9" fill="#000" font-size="33" font-family="Liberation Sans" font-weight="bold" textLength="73.67" lengthAdjust="spacingAndGlyphs">FWD</text>
<text x="1512.95" y="463.8" fill="#000" font-size="33" font-family="Liberation Sans" font-weight="bold" textLength="74.05" lengthAdjust="spacingAndGlyphs">COM</text>
<rect x="1168.6" y="556.4" width="119.7" height="85.9" stroke="#000" stroke-width="3" fill="none"/>
<text x="1176.68" y="594.9" fill="#000" font-size="33" font-family="Liberation Sans" font-weight="bold" textLength="98.98" lengthAdjust="spacingAndGlyphs">помпа</text>
<path d="M1319.6,489 L1330.1,728" stroke="#000" stroke-width="5" fill="none" stroke-linejoin="round" stroke-linecap="round"/>
<path d="M1564.7,489 L1340.3,728" stroke="#000" stroke-width="5" fill="none" stroke-linejoin="round" stroke-linecap="round"/>
<path d="M1269.2,643 L1276.9,675.5 H1212.5" stroke="#000" stroke-width="3" fill="none" stroke-linejoin="round" stroke-linecap="round"/>
<path d="M1283.7,643 L1304.8,728" stroke="#000" stroke-width="3" fill="none" stroke-linejoin="round" stroke-linecap="round"/>
<path d="M1215.6,704.2 H1286.2 L1293,726.5" stroke="#000" stroke-width="3" fill="none" stroke-linejoin="round" stroke-linecap="round"/>
<circle cx="1205.7" cy="676.5" r="6.5" stroke="#000" stroke-width="2.6" fill="#fff"/>
<circle cx="1208.8" cy="704.2" r="6.5" stroke="#000" stroke-width="2.6" fill="#fff"/>
<g id="pcb">
<rect x="1256.2" y="750" width="169.3" height="230" fill="#3f9737"/>
<rect x="1256.2" y="750" width="95.8" height="13.5" fill="#24532a"/>
<path d="M1275,800 L1300,830 L1340,830 L1360,850" stroke="#2e7130" stroke-width="1.6" fill="none"/>
<path d="M1320,800 L1335,815 L1390,815 L1410,835" stroke="#2e7130" stroke-width="1.6" fill="none"/>
<path d="M1380,835 L1395,850 L1395,940" stroke="#2e7130" stroke-width="1.6" fill="none"/>
<path d="M1312,845 L1312,940" stroke="#2e7130" stroke-width="1.6" fill="none"/>
<path d="M1345,845 L1345,940" stroke="#2e7130" stroke-width="1.6" fill="none"/>
<path d="M1280,900 L1300,880 L1390,880" stroke="#2e7130" stroke-width="1.6" fill="none"/>
<path d="M1395,770 L1420,790 L1420,840" stroke="#2e7130" stroke-width="1.6" fill="none"/>
<ellipse cx="1264.2" cy="756.3" rx="5.8" ry="5.8" fill="#6f7f77"/>
<ellipse cx="1264.2" cy="756.3" rx="4.2" ry="4.2" fill="#b3bdb8"/>
<ellipse cx="1416.9" cy="756.3" rx="5.8" ry="5.8" fill="#6f7f77"/>
<ellipse cx="1416.9" cy="756.3" rx="4.2" ry="4.2" fill="#b3bdb8"/>
<ellipse cx="1264" cy="973.8" rx="5.8" ry="5.8" fill="#6f7f77"/>
<ellipse cx="1264" cy="973.8" rx="4.2" ry="4.2" fill="#b3bdb8"/>
<ellipse cx="1416" cy="973.8" rx="5.8" ry="5.8" fill="#6f7f77"/>
<ellipse cx="1416" cy="973.8" rx="4.2" ry="4.2" fill="#b3bdb8"/>
<rect x="1228" y="762" width="46.2" height="206.3" fill="#6fca8b"/>
<rect x="1247" y="762" width="10.3" height="206.3" fill="#66c684"/>
<rect x="1257.3" y="763.6" width="16.9" height="204.7" fill="#72cf90"/>
<rect x="1274.2" y="762" width="6.8" height="206.3" fill="#24562a"/>
<rect x="1276.8" y="766" width="1.0" height="6" fill="#6e9a72"/>
<rect x="1276.8" y="777" width="1.0" height="6" fill="#6e9a72"/>
<rect x="1276.8" y="788" width="1.0" height="6" fill="#6e9a72"/>
<rect x="1276.8" y="799" width="1.0" height="6" fill="#6e9a72"/>
<rect x="1276.8" y="810" width="1.0" height="6" fill="#6e9a72"/>
<rect x="1276.8" y="821" width="1.0" height="6" fill="#6e9a72"/>
<rect x="1276.8" y="832" width="1.0" height="6" fill="#6e9a72"/>
<rect x="1276.8" y="843" width="1.0" height="6" fill="#6e9a72"/>
<rect x="1276.8" y="854" width="1.0" height="6" fill="#6e9a72"/>
<rect x="1276.8" y="865" width="1.0" height="6" fill="#6e9a72"/>
<rect x="1276.8" y="876" width="1.0" height="6" fill="#6e9a72"/>
<rect x="1276.8" y="887" width="1.0" height="6" fill="#6e9a72"/>
<rect x="1276.8" y="898" width="1.0" height="6" fill="#6e9a72"/>
<rect x="1276.8" y="909" width="1.0" height="6" fill="#6e9a72"/>
<rect x="1276.8" y="920" width="1.0" height="6" fill="#6e9a72"/>
<rect x="1276.8" y="931" width="1.0" height="6" fill="#6e9a72"/>
<rect x="1276.8" y="942" width="1.0" height="6" fill="#6e9a72"/>
<rect x="1276.8" y="953" width="1.0" height="6" fill="#6e9a72"/>
<rect x="1276.8" y="964" width="1.0" height="6" fill="#6e9a72"/>
<ellipse cx="1239" cy="765.9" rx="4.0" ry="2.9" fill="#5b5f52"/>
<rect x="1247.7" y="764.3" width="3.5" height="3.2" fill="#24452a"/>
<rect x="1229" y="764.4" width="2.5" height="3.0" fill="#2c5a36"/>
<ellipse cx="1239" cy="774.555" rx="4.0" ry="2.9" fill="#5b5f52"/>
<rect x="1247.7" y="772.9549999999999" width="3.5" height="3.2" fill="#24452a"/>
<rect x="1229" y="773.055" width="2.5" height="3.0" fill="#2c5a36"/>
<ellipse cx="1239" cy="783.2099999999999" rx="4.0" ry="2.9" fill="#5b5f52"/>
<rect x="1247.7" y="781.6099999999999" width="3.5" height="3.2" fill="#24452a"/>
<rect x="1229" y="781.7099999999999" width="2.5" height="3.0" fill="#2c5a36"/>
<ellipse cx="1239" cy="791.865" rx="4.0" ry="2.9" fill="#5b5f52"/>
<rect x="1247.7" y="790.265" width="3.5" height="3.2" fill="#24452a"/>
<rect x="1229" y="790.365" width="2.5" height="3.0" fill="#2c5a36"/>
<ellipse cx="1239" cy="800.52" rx="4.0" ry="2.9" fill="#5b5f52"/>
<rect x="1247.7" y="798.92" width="3.5" height="3.2" fill="#24452a"/>
<rect x="1229" y="799.02" width="2.5" height="3.0" fill="#2c5a36"/>
<ellipse cx="1239" cy="809.175" rx="4.0" ry="2.9" fill="#5b5f52"/>
<rect x="1247.7" y="807.5749999999999" width="3.5" height="3.2" fill="#24452a"/>
<rect x="1229" y="807.675" width="2.5" height="3.0" fill="#2c5a36"/>
<ellipse cx="1239" cy="817.8299999999999" rx="4.0" ry="2.9" fill="#5b5f52"/>
<rect x="1247.7" y="816.2299999999999" width="3.5" height="3.2" fill="#24452a"/>
<rect x="1229" y="816.3299999999999" width="2.5" height="3.0" fill="#2c5a36"/>
<ellipse cx="1239" cy="826.485" rx="4.0" ry="2.9" fill="#5b5f52"/>
<rect x="1247.7" y="824.885" width="3.5" height="3.2" fill="#24452a"/>
<rect x="1229" y="824.985" width="2.5" height="3.0" fill="#2c5a36"/>
<ellipse cx="1239" cy="835.14" rx="4.0" ry="2.9" fill="#5b5f52"/>
<rect x="1247.7" y="833.54" width="3.5" height="3.2" fill="#24452a"/>
<rect x="1229" y="833.64" width="2.5" height="3.0" fill="#2c5a36"/>
<ellipse cx="1239" cy="843.795" rx="4.0" ry="2.9" fill="#5b5f52"/>
<rect x="1247.7" y="842.1949999999999" width="3.5" height="3.2" fill="#24452a"/>
<rect x="1229" y="842.295" width="2.5" height="3.0" fill="#2c5a36"/>
<ellipse cx="1239" cy="852.4499999999999" rx="4.0" ry="2.9" fill="#5b5f52"/>
<rect x="1247.7" y="850.8499999999999" width="3.5" height="3.2" fill="#24452a"/>
<rect x="1229" y="850.9499999999999" width="2.5" height="3.0" fill="#2c5a36"/>
<ellipse cx="1239" cy="861.105" rx="4.0" ry="2.9" fill="#5b5f52"/>
<rect x="1247.7" y="859.505" width="3.5" height="3.2" fill="#24452a"/>
<rect x="1229" y="859.605" width="2.5" height="3.0" fill="#2c5a36"/>
<ellipse cx="1239" cy="869.76" rx="4.0" ry="2.9" fill="#5b5f52"/>
<rect x="1247.7" y="868.16" width="3.5" height="3.2" fill="#24452a"/>
<rect x="1229" y="868.26" width="2.5" height="3.0" fill="#2c5a36"/>
<ellipse cx="1239" cy="878.415" rx="4.0" ry="2.9" fill="#5b5f52"/>
<rect x="1247.7" y="876.8149999999999" width="3.5" height="3.2" fill="#24452a"/>
<rect x="1229" y="876.915" width="2.5" height="3.0" fill="#2c5a36"/>
<ellipse cx="1239" cy="887.0699999999999" rx="4.0" ry="2.9" fill="#5b5f52"/>
<rect x="1247.7" y="885.4699999999999" width="3.5" height="3.2" fill="#24452a"/>
<rect x="1229" y="885.5699999999999" width="2.5" height="3.0" fill="#2c5a36"/>
<ellipse cx="1239" cy="895.7249999999999" rx="4.0" ry="2.9" fill="#5b5f52"/>
<rect x="1247.7" y="894.1249999999999" width="3.5" height="3.2" fill="#24452a"/>
<rect x="1229" y="894.2249999999999" width="2.5" height="3.0" fill="#2c5a36"/>
<ellipse cx="1239" cy="904.38" rx="4.0" ry="2.9" fill="#5b5f52"/>
<rect x="1247.7" y="902.78" width="3.5" height="3.2" fill="#24452a"/>
<rect x="1229" y="902.88" width="2.5" height="3.0" fill="#2c5a36"/>
<ellipse cx="1239" cy="913.035" rx="4.0" ry="2.9" fill="#5b5f52"/>
<rect x="1247.7" y="911.435" width="3.5" height="3.2" fill="#24452a"/>
<rect x="1229" y="911.535" width="2.5" height="3.0" fill="#2c5a36"/>
<ellipse cx="1239" cy="921.6899999999999" rx="4.0" ry="2.9" fill="#5b5f52"/>
<rect x="1247.7" y="920.0899999999999" width="3.5" height="3.2" fill="#24452a"/>
<rect x="1229" y="920.1899999999999" width="2.5" height="3.0" fill="#2c5a36"/>
<ellipse cx="1239" cy="930.345" rx="4.0" ry="2.9" fill="#5b5f52"/>
<rect x="1247.7" y="928.745" width="3.5" height="3.2" fill="#24452a"/>
<rect x="1229" y="928.845" width="2.5" height="3.0" fill="#2c5a36"/>
<ellipse cx="1239" cy="939.0" rx="4.0" ry="2.9" fill="#5b5f52"/>
<rect x="1247.7" y="937.4" width="3.5" height="3.2" fill="#24452a"/>
<rect x="1229" y="937.5" width="2.5" height="3.0" fill="#2c5a36"/>
<ellipse cx="1239" cy="947.655" rx="4.0" ry="2.9" fill="#5b5f52"/>
<rect x="1247.7" y="946.055" width="3.5" height="3.2" fill="#24452a"/>
<rect x="1229" y="946.155" width="2.5" height="3.0" fill="#2c5a36"/>
<ellipse cx="1239" cy="956.31" rx="4.0" ry="2.9" fill="#5b5f52"/>
<rect x="1247.7" y="954.7099999999999" width="3.5" height="3.2" fill="#24452a"/>
<rect x="1229" y="954.81" width="2.5" height="3.0" fill="#2c5a36"/>
<ellipse cx="1239" cy="964.9649999999999" rx="4.0" ry="2.9" fill="#5b5f52"/>
<rect x="1247.7" y="963.3649999999999" width="3.5" height="3.2" fill="#24452a"/>
<rect x="1229" y="963.4649999999999" width="2.5" height="3.0" fill="#2c5a36"/>
<rect x="1257.3" y="814" width="16.9" height="1" fill="#5fb277"/>
<rect x="1257.3" y="874" width="16.9" height="1" fill="#5fb277"/>
<rect x="1257.3" y="930" width="16.9" height="1" fill="#5fb277"/>
<rect x="1275" y="966.3" width="133.5" height="36.7" fill="#6fca8b"/>
<rect x="1275" y="966.3" width="133.5" height="15.7" fill="#5aa86c"/>
<rect x="1275" y="966.3" width="133.5" height="5.7" fill="#4a9a5c"/>
<ellipse cx="1280.1" cy="994.5" rx="3.9" ry="2.9" fill="#5b5f52"/>
<rect x="1278.1" y="999.5" width="4.0" height="2.0" fill="#3d6e48"/>
<rect x="1284.6999999999998" y="982" width="2.0" height="6" fill="#7fd69a"/>
<ellipse cx="1291.34" cy="994.5" rx="3.9" ry="2.9" fill="#5b5f52"/>
<rect x="1289.34" y="999.5" width="4.0" height="2.0" fill="#3d6e48"/>
<ellipse cx="1302.58" cy="994.5" rx="3.9" ry="2.9" fill="#5b5f52"/>
<rect x="1300.58" y="999.5" width="4.0" height="2.0" fill="#3d6e48"/>
<rect x="1307.1799999999998" y="982" width="2.0" height="6" fill="#7fd69a"/>
<ellipse cx="1313.82" cy="994.5" rx="3.9" ry="2.9" fill="#5b5f52"/>
<rect x="1311.82" y="999.5" width="4.0" height="2.0" fill="#3d6e48"/>
<ellipse cx="1325.06" cy="994.5" rx="3.9" ry="2.9" fill="#5b5f52"/>
<rect x="1323.06" y="999.5" width="4.0" height="2.0" fill="#3d6e48"/>
<rect x="1329.6599999999999" y="982" width="2.0" height="6" fill="#7fd69a"/>
<ellipse cx="1336.3" cy="994.5" rx="3.9" ry="2.9" fill="#5b5f52"/>
<rect x="1334.3" y="999.5" width="4.0" height="2.0" fill="#3d6e48"/>
<ellipse cx="1347.54" cy="994.5" rx="3.9" ry="2.9" fill="#5b5f52"/>
<rect x="1345.54" y="999.5" width="4.0" height="2.0" fill="#3d6e48"/>
<rect x="1352.1399999999999" y="982" width="2.0" height="6" fill="#7fd69a"/>
<ellipse cx="1358.78" cy="994.5" rx="3.9" ry="2.9" fill="#5b5f52"/>
<rect x="1356.78" y="999.5" width="4.0" height="2.0" fill="#3d6e48"/>
<ellipse cx="1370.02" cy="994.5" rx="3.9" ry="2.9" fill="#5b5f52"/>
<rect x="1368.02" y="999.5" width="4.0" height="2.0" fill="#3d6e48"/>
<rect x="1374.62" y="982" width="2.0" height="6" fill="#7fd69a"/>
<ellipse cx="1381.26" cy="994.5" rx="3.9" ry="2.9" fill="#5b5f52"/>
<rect x="1379.26" y="999.5" width="4.0" height="2.0" fill="#3d6e48"/>
<ellipse cx="1392.5" cy="994.5" rx="3.9" ry="2.9" fill="#5b5f52"/>
<rect x="1390.5" y="999.5" width="4.0" height="2.0" fill="#3d6e48"/>
<rect x="1397.1" y="982" width="2.0" height="6" fill="#7fd69a"/>
<ellipse cx="1403.74" cy="994.5" rx="3.9" ry="2.9" fill="#5b5f52"/>
<rect x="1401.74" y="999.5" width="4.0" height="2.0" fill="#3d6e48"/>
<rect x="1286.7" y="726.8" width="22.4" height="36.2" fill="#3f8a4c"/>
<rect x="1286.7" y="726.8" width="22.4" height="23.2" fill="#6fca8b"/>
<rect x="1286.7" y="726.8" width="22.4" height="2.2" fill="#8ad8a2"/>
<ellipse cx="1292.748" cy="736.2" rx="3.4" ry="2.6" fill="#5b5f52"/>
<ellipse cx="1303.052" cy="736.2" rx="3.4" ry="2.6" fill="#5b5f52"/>
<rect x="1297.228" y="742" width="1.79" height="8" fill="#3f8a55"/>
<rect x="1286.7" y="742" width="1.4" height="21" fill="#3f8a55"/>
<rect x="1307.6999999999998" y="742" width="1.4" height="21" fill="#3f8a55"/>
<rect x="1325.7" y="726.8" width="22.1" height="36.2" fill="#3f8a4c"/>
<rect x="1325.7" y="726.8" width="22.1" height="23.2" fill="#6fca8b"/>
<rect x="1325.7" y="726.8" width="22.1" height="2.2" fill="#8ad8a2"/>
<ellipse cx="1331.667" cy="736.2" rx="3.4" ry="2.6" fill="#5b5f52"/>
<ellipse cx="1341.833" cy="736.2" rx="3.4" ry="2.6" fill="#5b5f52"/>
<rect x="1336.087" y="742" width="1.77" height="8" fill="#3f8a55"/>
<rect x="1325.7" y="742" width="1.4" height="21" fill="#3f8a55"/>
<rect x="1346.3999999999999" y="742" width="1.4" height="21" fill="#3f8a55"/>
<rect x="1374.6" y="726.8" width="22.1" height="36.2" fill="#6fca8b"/>
<rect x="1374.6" y="726.8" width="22.1" height="23.2" fill="#6fca8b"/>
<rect x="1374.6" y="726.8" width="22.1" height="2.2" fill="#8ad8a2"/>
<ellipse cx="1380.567" cy="736.2" rx="3.4" ry="2.6" fill="#5b5f52"/>
<ellipse cx="1390.733" cy="736.2" rx="3.4" ry="2.6" fill="#5b5f52"/>
<rect x="1384.987" y="742" width="1.77" height="8" fill="#3f8a55"/>
<rect x="1374.6" y="742" width="1.4" height="21" fill="#3f8a55"/>
<rect x="1395.3" y="742" width="1.4" height="21" fill="#3f8a55"/>
<rect x="1281" y="763.6" width="33.7" height="34.3" fill="#4a86d4"/>
<rect x="1283" y="766" width="12" height="28" fill="#6a9fe0" opacity="0.6"/>
<ellipse cx="1303" cy="769" rx="3" ry="4.5" fill="#8fb8ee"/>
<ellipse cx="1305" cy="790" rx="2.5" ry="4" fill="#8fb8ee"/>
<rect x="1319" y="763.6" width="34.4" height="34.3" fill="#4a86d4"/>
<rect x="1321" y="766" width="12" height="28" fill="#6a9fe0" opacity="0.6"/>
<ellipse cx="1341" cy="769" rx="3" ry="4.5" fill="#8fb8ee"/>
<ellipse cx="1343" cy="790" rx="2.5" ry="4" fill="#8fb8ee"/>
<rect x="1359" y="783.5" width="25" height="21" rx="6" fill="#3a4048"/>
<ellipse cx="1371.4" cy="794" rx="9.5" ry="7.8" fill="#1c1f22"/>
<rect x="1360" y="766" width="8" height="16" fill="#2a2f2a"/>
<rect x="1376" y="771" width="7" height="11" fill="#1d211d"/>
<rect x="1393.3" y="781" width="26.1" height="17.5" fill="#1d211d"/>
<rect x="1413" y="781" width="7" height="17.5" fill="#d0d0d0"/>
<ellipse cx="1413.8" cy="769.2" rx="7.2" ry="7.2" fill="#4e5a4e"/>
<ellipse cx="1413.8" cy="769.2" rx="6" ry="6" fill="#c9cdc8"/>
<ellipse cx="1412.8" cy="768.2" rx="3.5" ry="3.5" fill="#eef0ee"/>
<ellipse cx="1413.9" cy="808.4" rx="7.2" ry="7.2" fill="#4e5a4e"/>
<ellipse cx="1413.9" cy="808.4" rx="6" ry="6" fill="#c9cdc8"/>
<ellipse cx="1412.9" cy="807.4" rx="3.5" ry="3.5" fill="#eef0ee"/>
<rect x="1393.8" y="770" width="7.4" height="8.5" fill="#e9a055"/>
<rect x="1393.8" y="805" width="7.4" height="8.5" fill="#e9a055"/>
<rect x="1381.4" y="819" width="7.4" height="8.5" fill="#e9a055"/>
<rect x="1400.4" y="819" width="9.6" height="10" fill="#1d211d"/>
<rect x="1386.6" y="784.0" width="6.6" height="1.6" fill="#d8dcd8"/>
<rect x="1386.6" y="787.2" width="6.6" height="1.6" fill="#d8dcd8"/>
<rect x="1386.6" y="790.4" width="6.6" height="1.6" fill="#d8dcd8"/>
<rect x="1386.6" y="793.6" width="6.6" height="1.6" fill="#d8dcd8"/>
<rect x="1386.6" y="796.8" width="6.6" height="1.6" fill="#d8dcd8"/>
<rect x="1352" y="751" width="6" height="9" fill="#9a8a70"/>
<rect x="1363" y="752" width="9" height="8" fill="#8c7860"/>
<rect x="1313.3" y="805.4" width="15.7" height="16.9" fill="#1d211d"/>
<rect x="1345.8" y="807.8" width="15.7" height="15.1" fill="#1d211d"/>
<rect x="1282.6" y="820.5" width="23.5" height="20.5" fill="#1d211d"/>
<rect x="1307.3" y="833.7" width="81.9" height="3.6" fill="#1f2a20"/>
<rect x="1307.3" y="838" width="81.9" height="7" fill="#5aa85a" opacity="0.5"/>
<rect x="1309" y="839.5" width="2.5" height="1.2" fill="#b9dcb9" opacity="0.8"/>
<rect x="1310" y="842.8" width="2" height="1.1" fill="#b9dcb9" opacity="0.8"/>
<rect x="1313" y="839.5" width="2.5" height="1.2" fill="#b9dcb9" opacity="0.8"/>
<rect x="1314" y="842.8" width="2" height="1.1" fill="#b9dcb9" opacity="0.8"/>
<rect x="1317" y="839.5" width="2.5" height="1.2" fill="#b9dcb9" opacity="0.8"/>
<rect x="1318" y="842.8" width="2" height="1.1" fill="#b9dcb9" opacity="0.8"/>
<rect x="1321" y="839.5" width="2.5" height="1.2" fill="#b9dcb9" opacity="0.8"/>
<rect x="1322" y="842.8" width="2" height="1.1" fill="#b9dcb9" opacity="0.8"/>
<rect x="1325" y="839.5" width="2.5" height="1.2" fill="#b9dcb9" opacity="0.8"/>
<rect x="1326" y="842.8" width="2" height="1.1" fill="#b9dcb9" opacity="0.8"/>
<rect x="1329" y="839.5" width="2.5" height="1.2" fill="#b9dcb9" opacity="0.8"/>
<rect x="1330" y="842.8" width="2" height="1.1" fill="#b9dcb9" opacity="0.8"/>
<rect x="1333" y="839.5" width="2.5" height="1.2" fill="#b9dcb9" opacity="0.8"/>
<rect x="1334" y="842.8" width="2" height="1.1" fill="#b9dcb9" opacity="0.8"/>
<rect x="1337" y="839.5" width="2.5" height="1.2" fill="#b9dcb9" opacity="0.8"/>
<rect x="1338" y="842.8" width="2" height="1.1" fill="#b9dcb9" opacity="0.8"/>
<rect x="1341" y="839.5" width="2.5" height="1.2" fill="#b9dcb9" opacity="0.8"/>
<rect x="1342" y="842.8" width="2" height="1.1" fill="#b9dcb9" opacity="0.8"/>
<rect x="1345" y="839.5" width="2.5" height="1.2" fill="#b9dcb9" opacity="0.8"/>
<rect x="1346" y="842.8" width="2" height="1.1" fill="#b9dcb9" opacity="0.8"/>
<rect x="1349" y="839.5" width="2.5" height="1.2" fill="#b9dcb9" opacity="0.8"/>
<rect x="1350" y="842.8" width="2" height="1.1" fill="#b9dcb9" opacity="0.8"/>
<rect x="1353" y="839.5" width="2.5" height="1.2" fill="#b9dcb9" opacity="0.8"/>
<rect x="1354" y="842.8" width="2" height="1.1" fill="#b9dcb9" opacity="0.8"/>
<rect x="1357" y="839.5" width="2.5" height="1.2" fill="#b9dcb9" opacity="0.8"/>
<rect x="1358" y="842.8" width="2" height="1.1" fill="#b9dcb9" opacity="0.8"/>
<rect x="1361" y="839.5" width="2.5" height="1.2" fill="#b9dcb9" opacity="0.8"/>
<rect x="1362" y="842.8" width="2" height="1.1" fill="#b9dcb9" opacity="0.8"/>
<rect x="1365" y="839.5" width="2.5" height="1.2" fill="#b9dcb9" opacity="0.8"/>
<rect x="1366" y="842.8" width="2" height="1.1" fill="#b9dcb9" opacity="0.8"/>
<rect x="1369" y="839.5" width="2.5" height="1.2" fill="#b9dcb9" opacity="0.8"/>
<rect x="1370" y="842.8" width="2" height="1.1" fill="#b9dcb9" opacity="0.8"/>
<rect x="1373" y="839.5" width="2.5" height="1.2" fill="#b9dcb9" opacity="0.8"/>
<rect x="1374" y="842.8" width="2" height="1.1" fill="#b9dcb9" opacity="0.8"/>
<rect x="1377" y="839.5" width="2.5" height="1.2" fill="#b9dcb9" opacity="0.8"/>
<rect x="1378" y="842.8" width="2" height="1.1" fill="#b9dcb9" opacity="0.8"/>
<rect x="1381" y="839.5" width="2.5" height="1.2" fill="#b9dcb9" opacity="0.8"/>
<rect x="1382" y="842.8" width="2" height="1.1" fill="#b9dcb9" opacity="0.8"/>
<rect x="1385" y="839.5" width="2.5" height="1.2" fill="#b9dcb9" opacity="0.8"/>
<rect x="1386" y="842.8" width="2" height="1.1" fill="#b9dcb9" opacity="0.8"/>
<rect x="1285" y="767.0" width="9" height="1.6" fill="#a8c6ee" opacity="0.7"/>
<rect x="1285" y="771.6" width="9" height="1.6" fill="#a8c6ee" opacity="0.7"/>
<rect x="1285" y="776.2" width="9" height="1.6" fill="#a8c6ee" opacity="0.7"/>
<rect x="1285" y="780.8" width="9" height="1.6" fill="#a8c6ee" opacity="0.7"/>
<rect x="1285" y="785.4" width="9" height="1.6" fill="#a8c6ee" opacity="0.7"/>
<rect x="1285" y="790.0" width="9" height="1.6" fill="#a8c6ee" opacity="0.7"/>
<rect x="1323" y="767.0" width="9" height="1.6" fill="#a8c6ee" opacity="0.7"/>
<rect x="1323" y="771.6" width="9" height="1.6" fill="#a8c6ee" opacity="0.7"/>
<rect x="1323" y="776.2" width="9" height="1.6" fill="#a8c6ee" opacity="0.7"/>
<rect x="1323" y="780.8" width="9" height="1.6" fill="#a8c6ee" opacity="0.7"/>
<rect x="1323" y="785.4" width="9" height="1.6" fill="#a8c6ee" opacity="0.7"/>
<rect x="1323" y="790.0" width="9" height="1.6" fill="#a8c6ee" opacity="0.7"/>
<rect x="1286.9" y="856.6" width="13.2" height="26.5" fill="#1a1a1a"/>
<rect x="1290" y="859.0" width="4" height="2.5" fill="#e8e8e8"/>
<rect x="1290" y="863.2" width="4" height="2.5" fill="#e8e8e8"/>
<rect x="1290" y="867.4" width="4" height="2.5" fill="#e8e8e8"/>
<rect x="1290" y="871.6" width="4" height="2.5" fill="#e8e8e8"/>
<rect x="1290" y="875.8" width="4" height="2.5" fill="#e8e8e8"/>
<rect x="1290" y="880.0" width="4" height="2.5" fill="#e8e8e8"/>
<rect x="1317" y="854.2" width="24" height="19.2" fill="#1d211d"/>
<rect x="1282" y="897.5" width="24.1" height="21.7" fill="#1d211d"/>
<rect x="1317" y="896.3" width="24" height="19.3" fill="#1d211d"/>
<rect x="1352.5" y="865" width="24" height="7.2" rx="3.6" fill="#c9c9c2"/>
<rect x="1352.5" y="906.5" width="24" height="7.3" rx="3.6" fill="#c9c9c2"/>
<rect x="1356.7" y="875.2" width="18.0" height="15.1" fill="#1d211d"/>
<rect x="1356.7" y="919.2" width="18.0" height="14.4" fill="#1d211d"/>
<rect x="1308.5" y="927.6" width="15.7" height="7.2" fill="#111"/>
<rect x="1326" y="926" width="16" height="8" fill="#9fd6a8" opacity="0.7"/>
<rect x="1385" y="862" width="7" height="8" fill="#161a16"/>
<rect x="1385" y="876" width="7" height="8" fill="#161a16"/>
<rect x="1385" y="890" width="7" height="8" fill="#161a16"/>
<rect x="1385" y="904" width="7" height="8" fill="#161a16"/>
<rect x="1292" y="810" width="8" height="8" fill="#2a2f2a"/>
<rect x="1291" y="887" width="8" height="8" fill="#2a2f2a"/>
<rect x="1291" y="933" width="8" height="8" fill="#2a2f2a"/>
<rect x="1278" y="941" width="114" height="16" fill="#2f6f30"/>
<rect x="1284.4" y="944" width="9.0" height="9" fill="#151915"/>
<rect x="1282.9" y="942.5" width="12.0" height="12.0" fill="none" stroke="#9cc99c" stroke-width="0.6"/>
<rect x="1300.0" y="944" width="9.0" height="9" fill="#151915"/>
<rect x="1298.5" y="942.5" width="12.0" height="12.0" fill="none" stroke="#9cc99c" stroke-width="0.6"/>
<rect x="1316.0" y="944" width="9.0" height="9" fill="#151915"/>
<rect x="1314.5" y="942.5" width="12.0" height="12.0" fill="none" stroke="#9cc99c" stroke-width="0.6"/>
<rect x="1331.9" y="944" width="9.0" height="9" fill="#151915"/>
<rect x="1330.4" y="942.5" width="12.0" height="12.0" fill="none" stroke="#9cc99c" stroke-width="0.6"/>
<rect x="1348.3" y="944" width="9.0" height="9" fill="#151915"/>
<rect x="1346.8" y="942.5" width="12.0" height="12.0" fill="none" stroke="#9cc99c" stroke-width="0.6"/>
<rect x="1278" y="957" width="127" height="9.3" fill="#24512a"/>
<rect x="1393.6" y="936.8" width="12.6" height="20.2" fill="#1d211d"/>
<rect x="1394.7" y="840.9" width="35.3" height="88.4" fill="#2f7c30" stroke="#9ccaa8" stroke-width="0.9"/>
<rect x="1403.2" y="840.9" width="26.9" height="87.4" fill="#141414"/>
<rect x="1403.6" y="852.2" width="21.8" height="67.2" fill="#786a60"/>
<rect x="1409.5" y="858.0" width="9.5" height="2.4" fill="#4f443c" opacity="0.85"/>
<rect x="1409.5" y="863.9" width="9.5" height="2.4" fill="#4f443c" opacity="0.85"/>
<rect x="1409.5" y="869.8" width="9.5" height="2.4" fill="#4f443c" opacity="0.85"/>
<rect x="1409.5" y="875.7" width="9.5" height="2.4" fill="#4f443c" opacity="0.85"/>
<rect x="1409.5" y="881.6" width="9.5" height="2.4" fill="#4f443c" opacity="0.85"/>
<rect x="1409.5" y="887.5" width="9.5" height="2.4" fill="#4f443c" opacity="0.85"/>
<rect x="1409.5" y="893.4" width="9.5" height="2.4" fill="#4f443c" opacity="0.85"/>
<rect x="1409.5" y="899.3" width="9.5" height="2.4" fill="#4f443c" opacity="0.85"/>
<rect x="1409.5" y="905.2" width="9.5" height="2.4" fill="#4f443c" opacity="0.85"/>
<rect x="1409.5" y="911.1" width="9.5" height="2.4" fill="#4f443c" opacity="0.85"/>
<rect x="1430.6" y="855" width="12.3" height="59.6" fill="#8c6e50"/>
<rect x="1434.8" y="861.5" width="6.7" height="3.2" rx="1.5" fill="#d8d2c8"/>
<rect x="1434.8" y="868.2" width="6.7" height="3.2" rx="1.5" fill="#d8d2c8"/>
<rect x="1434.8" y="874.9" width="6.7" height="3.2" rx="1.5" fill="#d8d2c8"/>
<rect x="1434.8" y="881.6" width="6.7" height="3.2" rx="1.5" fill="#d8d2c8"/>
<rect x="1434.8" y="888.3" width="6.7" height="3.2" rx="1.5" fill="#d8d2c8"/>
<rect x="1434.8" y="895.0" width="6.7" height="3.2" rx="1.5" fill="#d8d2c8"/>
<rect x="1434.8" y="901.7" width="6.7" height="3.2" rx="1.5" fill="#d8d2c8"/>
<rect x="1434.8" y="908.4" width="6.7" height="3.2" rx="1.5" fill="#d8d2c8"/>
<rect x="1431" y="921.3" width="8.6" height="5.2" fill="#7a6a5a"/>
</g>
</svg>
</body></html>
